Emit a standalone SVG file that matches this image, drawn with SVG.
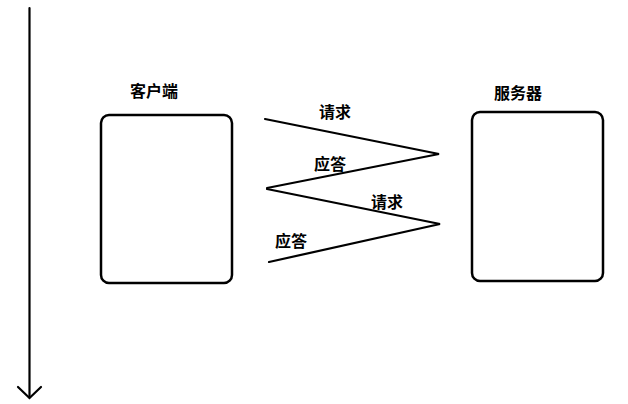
<svg xmlns="http://www.w3.org/2000/svg" width="628" height="404" viewBox="0 0 628 404">
<style>
.box{fill:#fff;stroke:#000;stroke-width:2.5}
.ln{fill:none;stroke:#000;stroke-width:2.2;stroke-linecap:round;stroke-linejoin:miter}
.t{font-family:"Liberation Sans","Noto Sans CJK SC",sans-serif;font-size:16px;font-weight:bold;fill:#000;text-anchor:middle}
</style>
<rect width="628" height="404" fill="#fff"/>
<g id="timeline">
<path class="ln" d="M29.5,8 V397"/>
<path class="ln" d="M18,387 L29.5,398 L41,387"/>
</g>
<g id="client">
<rect class="box" x="101" y="115" width="131" height="168" rx="8"/>
<text class="t" x="154" y="97">客户端</text>
</g>
<g id="server">
<rect class="box" x="472" y="112" width="131" height="169" rx="8"/>
<text class="t" x="518" y="99">服务器</text>
</g>
<g id="connectors">
<path class="ln" d="M265,119 L439,154 L267,188"/>
<path class="ln" d="M267,189 L440,224 L269,262"/>
<text class="t" x="335" y="118">请求</text>
<text class="t" x="330" y="170">应答</text>
<text class="t" x="387" y="208">请求</text>
<text class="t" x="291" y="247">应答</text>
</g>
</svg>
